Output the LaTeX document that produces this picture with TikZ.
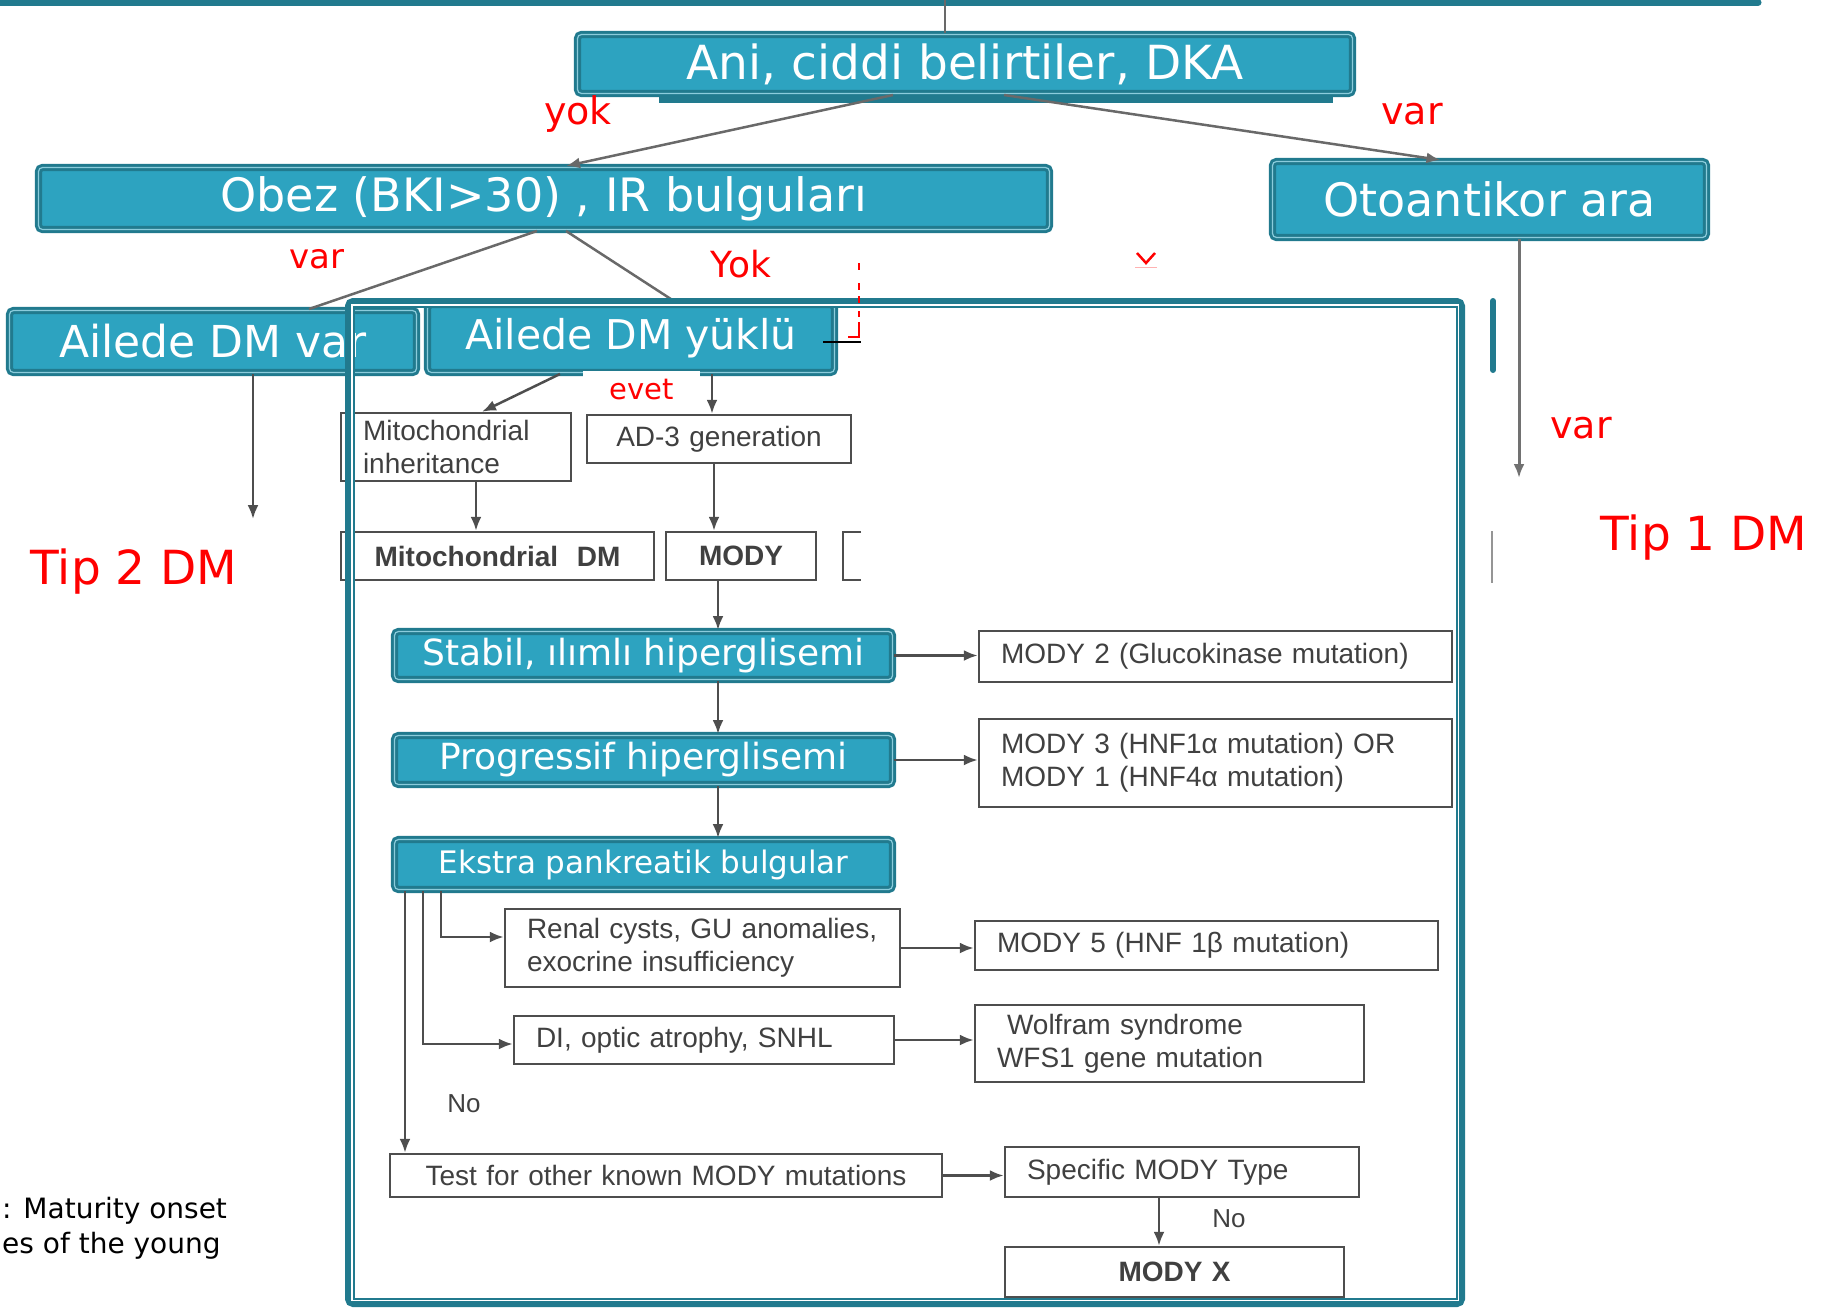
\documentclass[tikz,border=0pt]{standalone}
\usepackage{fontspec}
\setmainfont{DejaVu Sans}
\newfontfamily\chartfont{Liberation Sans}
\usepackage{xcolor}
\usepackage{tikz}
\usetikzlibrary{positioning, arrows.meta, calc}

\definecolor{tealfill}{HTML}{2DA3C0}
\definecolor{tealdark}{HTML}{217A8E}
\definecolor{chartgray}{HTML}{4E4E4E}
\definecolor{charttext}{HTML}{404040}

\begin{document}
\begin{tikzpicture}[
        x=1pt, y=-1pt,
        slidebox/.style={rectangle, draw=tealdark, fill=tealfill, line width=3pt, double=tealfill!55!white, double distance=1.2pt, rounded corners=4pt, text=white, inner sep=0pt},
        chartbox/.style={rectangle, draw=chartgray, line width=2.5pt, text=charttext, inner xsep=22pt, inner ysep=0pt, font=\chartfont\fontsize{28}{33}\selectfont},
        redlabel/.style={text=red, inner sep=0pt},
        flowline/.style={draw=chartgray, line width=2.5pt},
        flowarrow/.style={flowline, -{Latex[length=14pt, width=11pt]}}
    ]
        \useasboundingbox (0,0) rectangle (1830,1307);

        % slide header bar and top decision
        \draw[tealdark, line width=7pt, line cap=round] (-10,2.5) -- (1758,2.5);
        \coordinate (topend) at (945,0);
        \fill[tealdark] (659,95) rectangle (1333,103);
        \node[slidebox, minimum width=775pt, minimum height=59pt, font=\fontsize{47}{56}\selectfont] (ani) at (965,64) {Ani, ciddi belirtiler, DKA};
        \node[slidebox, minimum width=1011pt, minimum height=62pt, font=\fontsize{46}{55}\selectfont] (obez) at (544,198.5) {Obez (BKI>30) , IR bulguları};
        \node[slidebox, minimum width=434pt, minimum height=76pt, font=\fontsize{46}{55}\selectfont] (oto) at (1489.5,199.5) {Otoantikor ara};
        \node[slidebox, minimum width=407pt, minimum height=62pt, font=\fontsize{44}{53}\selectfont] (ailevar) at (213,341.5) {Ailede DM var};
        \node[slidebox, minimum width=407pt, minimum height=68pt, font=\fontsize{41}{50}\selectfont] (aileyuk) at (631,338.5) {Ailede DM yüklü};

        \draw[flowline, draw=chartgray!85] (topend) -- ([xshift=-20pt]ani.north);
        \draw[flowarrow, draw=chartgray!85] ([xshift=-72pt]ani.south) -- ([xshift=22pt]obez.north);
        \draw[flowarrow, draw=chartgray!85] ([xshift=39pt]ani.south) -- ([xshift=-49pt]oto.north);
        \draw[flowline, draw=chartgray!85] ([xshift=-7pt]obez.south) -- ([xshift=96pt]ailevar.north);
        \draw[flowline, draw=chartgray!85] ([xshift=22pt]obez.south) -- ([xshift=46pt]aileyuk.north);

        % outcomes outside the chart
        \coordinate (tip2end) at (253,519);
        \coordinate (tip1end) at (1519,478);
        \draw[flowarrow] ([xshift=40pt]ailevar.south) -- (tip2end);
        \draw[flowarrow, line width=3pt, draw=chartgray!80] ([xshift=29.5pt]oto.south) -- (tip1end);

        \node[redlabel, font=\fontsize{38}{44}\selectfont] (yok) at (578,114) {yok};
        \node[redlabel, font=\fontsize{38}{44}\selectfont] (var1) at (1412,114) {var};
        \node[redlabel, font=\fontsize{34}{40}\selectfont] (var2) at (317,259) {var};
        \node[redlabel, font=\fontsize{36}{42}\selectfont] (yok2) at (741,264) {Yok};
        \node[redlabel, font=\fontsize{38}{44}\selectfont] (var3) at (1581,428) {var};
        \node[redlabel, font=\fontsize{47}{56}\selectfont] (tip1) at (1704,538) {Tip 1 DM};
        \node[redlabel, font=\fontsize{47}{56}\selectfont] (tip2) at (134,572) {Tip 2 DM};

        % MODY flowchart
        \node[chartbox, text width=186pt, align=left, minimum height=68pt] (mitoinh) at (456,447) {Mitochondrial\\inheritance};
        \node[chartbox, text width=220pt, align=center, minimum height=48pt] (ad3) at (719,439) {AD-3 generation};
        \node[chartbox, text width=269pt, align=center, minimum height=48pt, font=\chartfont\bfseries\fontsize{28}{33}\selectfont] (mitodm) at (497.5,556) {Mitochondrial\ \ DM};
        \node[chartbox, text width=106pt, align=center, minimum height=48pt, font=\chartfont\bfseries\fontsize{28}{33}\selectfont] (mody) at (741,556) {MODY};
        \draw[chartgray, line width=2.5pt] (861,532) -| (843,580) -- (861,580);

        \node[slidebox, minimum width=498pt, minimum height=48pt, font=\fontsize{36}{43}\selectfont] (stabil) at (643.5,655.5) {Stabil, ılımlı hiperglisemi};
        \node[slidebox, minimum width=498pt, minimum height=49pt, font=\fontsize{36}{43}\selectfont] (prog) at (643.5,760) {Progressif hiperglisemi};
        \node[slidebox, minimum width=498pt, minimum height=50pt, font=\fontsize{31}{37}\selectfont] (ekstra) at (643.5,864.5) {Ekstra pankreatik bulgular};

        \node[chartbox, text width=429pt, align=left, minimum height=51pt] (mody2) at (1215.5,656.5) {MODY 2 (Glucokinase mutation)};
        \node[chartbox, text width=429pt, align=left, minimum height=88pt] (mody3) at (1215.5,763) {MODY 3 (HNF1α mutation) OR\\MODY 1 (HNF4α mutation)};
        \node[chartbox, text width=351pt, align=left, minimum height=78pt] (renal) at (702.5,948) {Renal cysts, GU anomalies,\\exocrine insufficiency};
        \node[chartbox, text width=419pt, align=left, minimum height=49pt] (mody5) at (1206.5,945.5) {MODY 5 (HNF 1β mutation)};
        \node[chartbox, text width=336pt, align=left, minimum height=48pt] (di) at (704,1040) {DI, optic atrophy, SNHL};
        \node[chartbox, text width=345pt, align=left, minimum height=77pt] (wolfram) at (1169.5,1043.5) {\hspace{10pt}Wolfram syndrome\\WFS1 gene mutation};
        \node[chartbox, text width=508pt, align=center, minimum height=43pt] (test) at (666,1175.5) {Test for other known MODY mutations};
        \node[chartbox, text width=310pt, align=left, minimum height=50pt] (specific) at (1182,1172) {Specific MODY Type};
        \node[chartbox, text width=295pt, align=center, minimum height=50pt, font=\chartfont\bfseries\fontsize{28}{33}\selectfont] (modyx) at (1174.5,1272) {MODY X};
        \node[text=charttext, font=\chartfont\fontsize{26}{30}\selectfont, inner sep=0pt] (no1) at (464,1104) {No};
        \node[text=charttext, font=\chartfont\fontsize{26}{30}\selectfont, inner sep=0pt] (no2) at (1229,1219) {No};

        \draw[flowarrow] ([xshift=-71pt]aileyuk.south) -- ([xshift=26pt]mitoinh.north);
        \draw[flowarrow] ([xshift=81pt]aileyuk.south) -- ([xshift=-7pt]ad3.north);
        \node[fill=white, text=red, minimum width=117pt, minimum height=37pt, inner sep=0pt, font=\fontsize{29}{35}\selectfont] (evet) at (641.5,389.5) {evet};
        \draw[flowarrow] ([xshift=20pt]mitoinh.south) -- ([xshift=-21.5pt]mitodm.north);
        \draw[flowarrow] ([xshift=-5pt]ad3.south) -- ([xshift=-27pt]mody.north);
        \draw[flowarrow] ([xshift=-23pt]mody.south) -- ([xshift=74.5pt]stabil.north);
        \draw[flowarrow] ([xshift=74.5pt]stabil.south) -- ([xshift=74.5pt]prog.north);
        \draw[flowarrow] ([xshift=74.5pt]prog.south) -- ([xshift=74.5pt]ekstra.north);
        \draw[flowarrow] (stabil.east) -- (stabil.east -| mody2.west);
        \draw[flowarrow] (prog.east) -- (prog.east -| mody3.west);
        \draw[flowarrow] ([xshift=-202.5pt]ekstra.south) |- ([yshift=11pt]renal.west);
        \draw[flowarrow] ([xshift=-220.5pt]ekstra.south) |- ([yshift=-4pt]di.west);
        \draw[flowarrow] ([xshift=-238.5pt]ekstra.south) -- ([xshift=-261pt]test.north);
        \draw[flowarrow] (renal.east) -- (renal.east -| mody5.west);
        \draw[flowarrow] (di.east) -- (di.east -| wolfram.west);
        \draw[flowarrow] (test.east) -- (test.east -| specific.west);
        \draw[flowarrow] ([xshift=-23pt]specific.south) -- ([xshift=-15.5pt]modyx.north);

        % slide frame over the chart
        \draw[tealdark, line width=6pt, rounded corners=5pt] (348,301) rectangle (1462,1304);
        \draw[white, line width=1.5pt] (351.75,304.75) rectangle (1458.25,1300.25);
        \draw[tealdark, line width=2pt] (353.5,306.5) rectangle (1456.5,1298.5);
        \draw[tealdark, line width=6pt, line cap=round] (1493,301) -- (1493,370);
        \draw[chartgray!60, line width=2.5pt] (1492,531) -- (1492,583);

        % leftovers of the slide
        \draw[red, line width=2.5pt] (1137,253) -- (1146,263) -- (1155,253);
        \draw[red!30, line width=1pt] (1135,267) -- (1157,267);
        \draw[red, line width=2.5pt] (859,263) -- (859,270) (859,283) -- (859,290) (859,296) -- (859,303) (859,311) -- (859,317);
        \draw[red, line width=2.5pt] (859,322) -- (859,337) -- (848,337);
        \draw[black, line width=2pt] (823,342) -- (861,342);

        \node[anchor=west, inner sep=0pt, font=\fontsize{28}{34}\selectfont] (caption1) at (2,1211) {: Maturity onset};
        \node[anchor=west, inner sep=0pt, font=\fontsize{28}{34}\selectfont] (caption2) at (2,1246) {es of the young};

    \end{tikzpicture}
\end{document}
